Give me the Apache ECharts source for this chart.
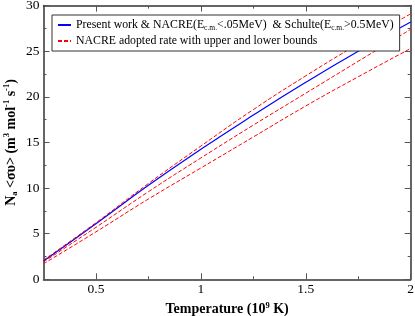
<!DOCTYPE html>
<html>
<head>
<meta charset="utf-8">
<script src="https://cdn.jsdelivr.net/npm/echarts@6/dist/echarts.min.js"></script>
<style>
html,body{margin:0;padding:0;background:#fff;}
#chart{width:415px;height:316px;}
</style>
</head>
<body>
<div id="chart"></div>
<script>
// Temperature (10^9 K)
var temps = [0.25, 0.5, 0.75, 1.0, 1.25, 1.5, 1.75, 2.0];
// Present work & NACRE & Schulte
var present = [2.0, 6.1, 10.3, 14.25, 18.0, 21.6, 25.0, 28.2];
// NACRE upper bound
var nacreUpper = [2.1, 6.2, 10.5, 14.6, 18.6, 22.3, 25.8, 29.1];
// NACRE adopted
var nacreAdopted = [1.9, 5.7, 9.6, 13.3, 16.9, 20.4, 23.9, 27.4];
// NACRE lower bound
var nacreLower = [1.7, 5.2, 8.8, 12.2, 15.6, 19.0, 22.2, 25.3];

var xMajor = [0.5, 1, 1.5, 2];
var xMinor = [0.75, 1.25, 1.75];

var nameBlue = 'Present work & NACRE(E{sub|c.m.}<.05MeV)  & Schulte(E{sub|c.m.}>0.5MeV)';
var nameRed = 'NACRE adopted rate with upper and lower bounds';

function pairs(xs, ys){ return xs.map(function(x,i){ return [x, ys[i]]; }); }

var FONT = '"Liberation Serif", "Times New Roman", serif';
var frame = {show:true, lineStyle:{color:'#333', width:1.5}};
var tickStyle = {color:'#555', width:1};

var chart = echarts.init(document.getElementById('chart'), null, {renderer:'canvas'});
chart.setOption({
  animation:false,
  backgroundColor:'#fff',
  grid:{left:43.5, right:4.3, top:5.6, bottom:36.7, containLabel:false, outerBoundsMode:'none'},
  legend:{
    left:52, top:15, orient:'vertical',
    data:[nameBlue, nameRed],
    itemWidth:13, itemHeight:10, itemGap:2,
    padding:[3,6,3,5],
    borderColor:'#333', borderWidth:1, backgroundColor:'#fff',
    itemStyle:{opacity:0},
    formatter:function(n){ return n; },
    textStyle:{
      fontFamily:FONT, fontSize:11.8, color:'#000', lineHeight:14,
      rich:{
        sub:{fontFamily:FONT, fontSize:7.5, color:'#000', lineHeight:7, verticalAlign:'bottom'}
      }
    }
  },
  xAxis:[
    {type:'value', position:'bottom', min:0.25, max:2,
     name:'Temperature (10{sup|9} K)', nameLocation:'middle', nameGap:20,
     nameTextStyle:{fontFamily:FONT, fontSize:14, fontWeight:'bold', color:'#000', lineHeight:17,
       rich:{sup:{fontFamily:FONT, fontSize:8.5, fontWeight:'bold', color:'#000', lineHeight:8, verticalAlign:'top'}}},
     axisLine:frame,
     axisTick:{show:true, inside:true, length:6, lineStyle:tickStyle, customValues:xMajor},
     axisLabel:{show:true, customValues:xMajor, fontFamily:FONT, fontSize:13.5, color:'#000', margin:3,
       formatter:function(v){ return String(v); }},
     splitLine:{show:false}},
    {type:'value', position:'bottom', min:0.25, max:2,
     axisLine:{show:false},
     axisTick:{show:true, inside:true, length:3, lineStyle:tickStyle, customValues:xMinor},
     axisLabel:{show:false}, splitLine:{show:false}},
    {type:'value', position:'top', min:0.25, max:2,
     axisLine:frame,
     axisTick:{show:true, inside:true, length:6, lineStyle:tickStyle, customValues:xMajor},
     axisLabel:{show:false}, splitLine:{show:false}},
    {type:'value', position:'top', min:0.25, max:2,
     axisLine:{show:false},
     axisTick:{show:true, inside:true, length:3, lineStyle:tickStyle, customValues:xMinor},
     axisLabel:{show:false}, splitLine:{show:false}}
  ],
  yAxis:[
    {type:'value', position:'left', min:0, max:30, interval:5,
     name:'N{sub|a} <συ> (m{sup|3} mol{sup|-1} s{sup|-1})', nameLocation:'middle', nameGap:24,
     nameMoveOverlap:false,
     nameTextStyle:{fontFamily:FONT, fontSize:14, fontWeight:'bold', color:'#000', lineHeight:17,
       rich:{
         sup:{fontFamily:FONT, fontSize:8.5, fontWeight:'bold', color:'#000', lineHeight:8, verticalAlign:'top'},
         sub:{fontFamily:FONT, fontSize:8.5, fontWeight:'bold', color:'#000', lineHeight:8, verticalAlign:'bottom'}
       }},
     axisLine:frame,
     axisTick:{show:true, inside:true, length:6, lineStyle:tickStyle},
     minorTick:{show:true, splitNumber:2, length:3, lineStyle:tickStyle},
     axisLabel:{fontFamily:FONT, fontSize:13.5, color:'#000', margin:4},
     splitLine:{show:false}, minorSplitLine:{show:false}},
    {type:'value', position:'right', min:0, max:30, interval:5,
     axisLine:frame,
     axisTick:{show:true, inside:true, length:6, lineStyle:tickStyle},
     minorTick:{show:true, splitNumber:2, length:3, lineStyle:tickStyle},
     axisLabel:{show:false},
     splitLine:{show:false}, minorSplitLine:{show:false}}
  ],
  series:[
    {type:'line', name:nameBlue, data:pairs(temps, present), showSymbol:false, symbol:'none', smooth:true,
     lineStyle:{color:'#0000ff', width:1.2}, itemStyle:{color:'#0000ff'}},
    {type:'line', name:nameRed, data:pairs(temps, nacreUpper), showSymbol:false, symbol:'none', smooth:true,
     lineStyle:{color:'#ff0000', width:1, type:[4,2]}, itemStyle:{color:'#ff0000'}},
    {type:'line', name:nameRed, data:pairs(temps, nacreAdopted), showSymbol:false, symbol:'none', smooth:true,
     lineStyle:{color:'#ff0000', width:1, type:[4,2]}, itemStyle:{color:'#ff0000'}},
    {type:'line', name:nameRed, data:pairs(temps, nacreLower), showSymbol:false, symbol:'none', smooth:true,
     lineStyle:{color:'#ff0000', width:1, type:[4,2]}, itemStyle:{color:'#ff0000'}}
  ]
});
</script>
</body>
</html>
